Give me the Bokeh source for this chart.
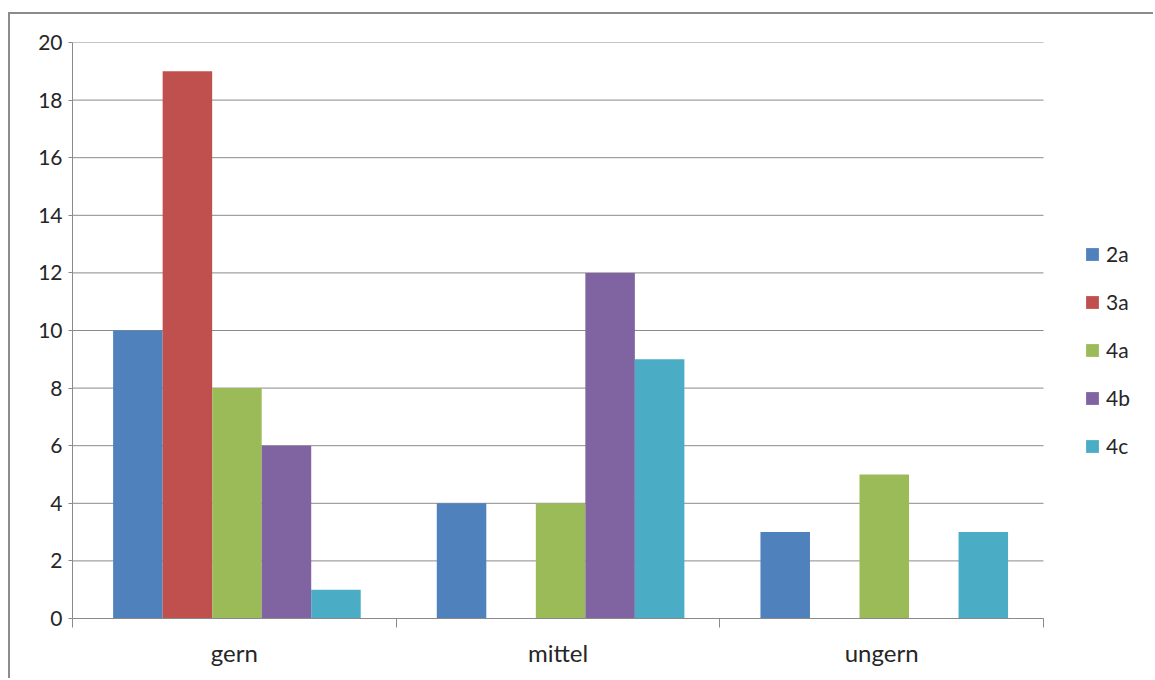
from bokeh.plotting import figure
from bokeh.models import (ColumnDataSource, Range1d, FixedTicker, Legend, LegendItem)
from bokeh.embed import file_html
from bokeh.resources import INLINE

# Survey answers per class
categories = ["gern", "mittel", "ungern"]
series = ["2a", "3a", "4a", "4b", "4c"]
v_2a = [10, 4, 3]
v_3a = [19, 0, 0]
v_4a = [8, 4, 5]
v_4b = [6, 12, 0]
v_4c = [1, 9, 3]
colors = ["#4F81BD", "#C0504D", "#9BBB59", "#8064A2", "#4BACC6"]
y_ticks = list(range(0, 21, 2))

FONT = "Lato"
TEXT = "#262626"
GRID = "#8a8a8a"

# The frame runs to the right edge so the legend can sit beside the bars;
# the category part (0..3) keeps 971 px of the 1083 px wide frame.
n_cat = len(categories)
x_end = n_cat * 1083 / 971

p = figure(width=1145, height=666, output_backend="svg", toolbar_location=None,
           x_range=Range1d(0, x_end), y_range=Range1d(0, 20),
           min_border_left=62, min_border_right=0,
           min_border_top=28, min_border_bottom=62)
p.styles = {"margin-left": "8px", "margin-top": "12px",
            "border-left": "2px solid #8c8c8c", "border-top": "2px solid #8c8c8c"}
p.outline_line_color = None
p.background_fill_color = "white"
p.border_fill_color = "white"
p.grid.visible = False

# Horizontal grid lines, limited to the category area
p.segment(x0=[0] * len(y_ticks), x1=[n_cat] * len(y_ticks), y0=y_ticks, y1=y_ticks,
          line_color=GRID, line_width=1)

bar_w = 0.153
values = [v_2a, v_3a, v_4a, v_4b, v_4c]
items = []
for j, (name, vals, col) in enumerate(zip(series, values, colors)):
    xs = [i + 0.508 + (j - 2) * bar_w for i in range(n_cat)]
    src = ColumnDataSource(dict(x=xs, top=vals))
    r = p.vbar(x="x", top="top", bottom=0, width=bar_w, source=src,
               fill_color=col, line_color=None)
    items.append(LegendItem(label=name, renderers=[r]))

# Value axis
ya = p.yaxis[0]
ya.ticker = FixedTicker(ticks=y_ticks)
ya.axis_line_color = GRID
ya.major_tick_line_color = GRID
ya.major_tick_out = 4
ya.major_tick_in = 0
ya.minor_tick_line_color = None
ya.major_label_standoff = 6
ya.major_label_text_font = FONT
ya.major_label_text_font_size = "21px"
ya.major_label_text_color = TEXT

# Category axis: labels at centres, tick marks at boundaries
xa = p.xaxis[0]
xa.bounds = (0, n_cat)
xa.ticker = FixedTicker(ticks=[0.5, 1.5, 2.5], minor_ticks=[0, 1, 2, 3])
xa.major_label_overrides = {0.5: categories[0], 1.5: categories[1], 2.5: categories[2]}
xa.axis_line_color = GRID
xa.major_tick_line_color = None
xa.major_tick_out = 0
xa.major_tick_in = 0
xa.minor_tick_line_color = GRID
xa.minor_tick_out = 9
xa.minor_tick_in = 0
xa.major_label_standoff = 10
xa.major_label_text_font = FONT
xa.major_label_text_font_size = "24px"
xa.major_label_text_color = TEXT

legend = Legend(items=items, location=(1012, 160), orientation="vertical",
                glyph_width=16, glyph_height=16, label_height=16,
                spacing=23, padding=0, margin=0, label_standoff=6,
                border_line_color=None, background_fill_alpha=0,
                label_text_font=FONT, label_text_font_size="21px",
                label_text_color=TEXT)
p.add_layout(legend, "center")

open("out.html", "w").write(file_html(p, INLINE))
